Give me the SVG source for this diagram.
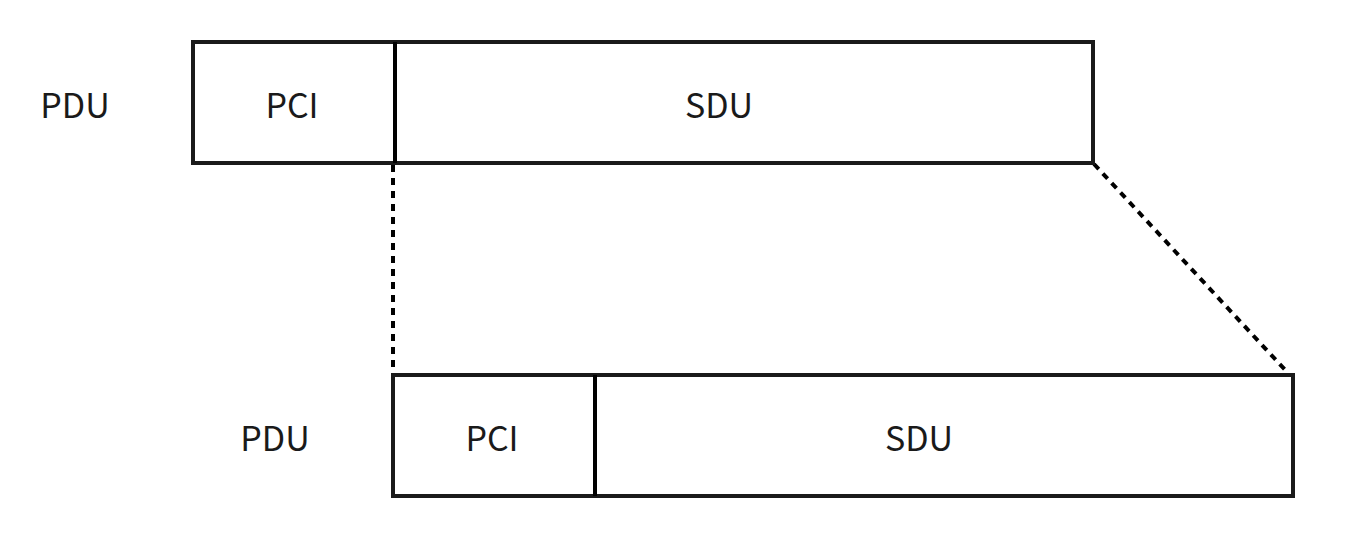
<svg xmlns="http://www.w3.org/2000/svg" width="1350" height="544" viewBox="0 0 1350 544">
<style>
.box{fill:#fff;stroke:#1a1a1a;stroke-width:4}
.div{stroke:#000;stroke-width:4}
.dash{stroke:#000;stroke-width:4;stroke-dasharray:7 6;fill:none}
text{font-family:"Noto Sans CJK SC","Noto Sans",sans-serif;font-size:34px;fill:#1a1a1a;text-anchor:middle}
</style>
<rect width="1350" height="544" fill="#fff"/>
<g id="connectors">
<line class="dash" x1="393" y1="165" x2="393" y2="373"/>
<line class="dash" x1="1094" y1="164" x2="1288" y2="373"/>
</g>
<g id="top-pdu">
<text x="75" y="118">PDU</text>
<rect class="box" x="193" y="42" width="900" height="121"/>
<line class="div" x1="395" y1="42" x2="395" y2="163"/>
<text x="292" y="118">PCI</text>
<text x="719" y="118">SDU</text>
</g>
<g id="bottom-pdu">
<text x="275" y="451">PDU</text>
<rect class="box" x="393" y="375" width="900" height="121"/>
<line class="div" x1="595" y1="375" x2="595" y2="496"/>
<text x="492" y="451">PCI</text>
<text x="919" y="451">SDU</text>
</g>
</svg>
